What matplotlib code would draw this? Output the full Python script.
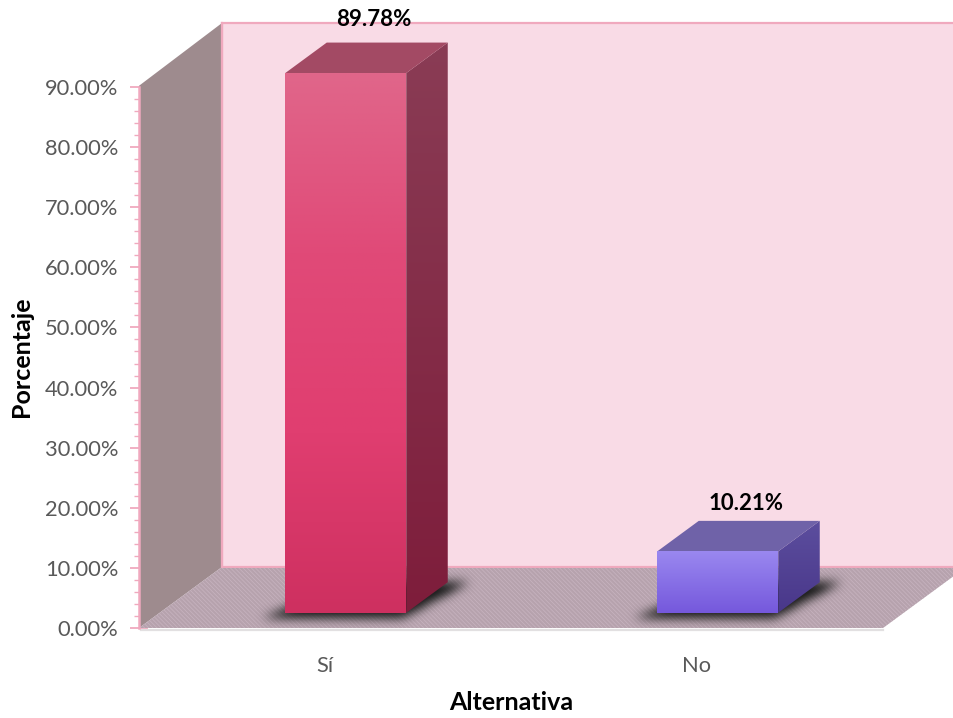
import numpy as np
import matplotlib
matplotlib.use('Agg')
import matplotlib.pyplot as plt
from matplotlib.patches import Polygon
from matplotlib.path import Path
from matplotlib.colors import LinearSegmentedColormap

categories = ['Sí', 'No']
values = [89.78, 10.21]
value_labels = ['89.78%', '10.21%']
y_ticks = [0, 10, 20, 30, 40, 50, 60, 70, 80, 90]
y_tick_labels = ['0.00%', '10.00%', '20.00%', '30.00%', '40.00%', '50.00%', '60.00%', '70.00%', '80.00%', '90.00%']
y_minor_ticks = [v for v in range(0, 91, 2) if v % 10 != 0]

W, H = 954, 718
plt.rcParams['font.family'] = ['Lato', 'DejaVu Sans']
plt.rcParams['hatch.linewidth'] = 0.6

fig = plt.figure(figsize=(W / 100, H / 100), dpi=100)
ax = fig.add_axes([139 / W, 1 - 628 / H, 744 / W, 541 / H])
ax.patch.set_alpha(0)
ax.set_xlim(-0.5, 1.5)
ax.set_ylim(0, 90)

# depth of the fake 3d box, in data units
dx = 83 / 372
dy = 61 / 6.011
bar_w = 121 / 372
pink = '#F0A9BE'


def face(points, cols, z):
    # gradient face: an image clipped by the polygon
    poly = Polygon(points, closed=True, fc='none', ec='none', transform=ax.transData)
    ax.add_patch(poly)
    xs = [p[0] for p in points]
    ys = [p[1] for p in points]
    cmap = LinearSegmentedColormap.from_list('f', cols)
    im = ax.imshow(np.linspace(0, 1, 256).reshape(-1, 1), cmap=cmap, aspect='auto', zorder=z,
                   extent=(min(xs), max(xs), min(ys), max(ys)), origin='upper')
    im.set_clip_path(poly)
    im.set_clip_box(fig.bbox)


def shadow(x0, x1, y0, z):
    # soft dark patch under a bar, blurred by hand
    px = 2
    gx = np.arange(0, W, px)
    gy = np.arange(0, H, px)
    xx, yy = np.meshgrid(gx, gy)
    pts = ax.transData.inverted().transform(np.c_[xx.ravel(), (H - yy).ravel()])
    ext = 0.06
    base = [(x0 - ext, y0 - 0.6), (x1 - 0.01, y0 - 0.6), (x1 + dx / 2 + ext, y0 + dy / 2 + 0.3), (x0 + dx / 2 + ext, y0 + dy / 2 + 0.3)]
    mask = Path(base).contains_points(pts).reshape(xx.shape).astype(float)
    kernel = np.ones(5) / 5
    for _ in range(3):
        mask = np.apply_along_axis(lambda r: np.convolve(r, kernel, mode='same'), 0, mask)
        mask = np.apply_along_axis(lambda r: np.convolve(r, kernel, mode='same'), 1, mask)
    rgba = np.zeros(mask.shape + (4,))
    rgba[..., 0:3] = 0.13
    rgba[..., 3] = np.clip(mask * 1.1, 0, 1)
    bb = ax.transData.inverted().transform([(0, 0), (W, H)])
    im = ax.imshow(rgba, extent=(bb[0][0], bb[1][0], bb[0][1], bb[1][1]), aspect='auto', zorder=z, interpolation='bilinear')
    im.set_clip_box(fig.bbox)


# walls and floor
x_l, x_r = -0.5, 1.5
wall_top = 90.5
ax.add_patch(Polygon([(x_l + dx, dy), (x_r + dx, dy), (x_r + dx, wall_top + dy), (x_l + dx, wall_top + dy)],
                     fc='#F9DBE6', ec=pink, lw=1.6, zorder=1, clip_on=False))
ax.add_patch(Polygon([(x_l, 0), (x_l + dx, dy), (x_l + dx, wall_top + dy), (x_l, 90.2)],
                     fc='#9E8B8E', ec='none', zorder=2, clip_on=False))
ax.plot([x_l + dx, x_l + dx], [dy, wall_top + dy], color=pink, lw=1.6, zorder=2.5, clip_on=False)
ax.add_patch(Polygon([(x_l, 0), (x_r, 0), (x_r + dx, dy), (x_l + dx, dy)],
                     fc='#B6A2AD', ec='#C6B2BE', hatch='\\\\\\\\\\\\\\\\', lw=0, zorder=2, clip_on=False))
ax.plot([x_l + dx, x_r + dx], [dy, dy], color=pink, lw=1.4, zorder=2.5, clip_on=False)
ax.plot([x_l + 0.005, x_r], [-0.3, -0.3], color='#E2E0E1', lw=1.6, zorder=2, clip_on=False)

# bars: they stand in the middle of the floor depth
styles = [
    {'front': ['#E0668A', '#E04A78', '#E03E70', '#CE3060'], 'side': ['#8A3C55', '#7E1D3B'], 'top': '#A34A64', 'pad': 9},
    {'front': ['#9A88F0', '#7558DC'], 'side': ['#5C4E9E', '#49378A'], 'top': '#6F62A8', 'pad': 5},
]
bar_dx = dx / 4
bar_dy = dy / 4
for i, v in enumerate(values):
    st = styles[i]
    x0 = i - bar_w / 2 + bar_dx
    x1 = x0 + bar_w
    y0 = bar_dy
    y1 = v + bar_dy
    shadow(x0, x1, y0, 3)
    face([(x0, y0), (x1, y0), (x1, y1), (x0, y1)], st['front'], 5)
    face([(x1, y0), (x1 + dx / 2, y0 + dy / 2), (x1 + dx / 2, y1 + dy / 2), (x1, y1)], st['side'], 4)
    ax.add_patch(Polygon([(x0, y1), (x1, y1), (x1 + dx / 2, y1 + dy / 2), (x0 + dx / 2, y1 + dy / 2)],
                         fc=st['top'], ec='none', zorder=4, clip_on=False))
    ax.annotate(value_labels[i], xy=(x0 + bar_w / 2 + 28 / 372, y1 + dy / 2), xytext=(0, st['pad']), textcoords='offset points',
                ha='center', va='bottom', fontsize=16, fontweight='bold', color='black', zorder=8,
                annotation_clip=False)

ax.set_xlim(-0.5, 1.5)
ax.set_ylim(0, 90)

for s in ['top', 'right', 'bottom']:
    ax.spines[s].set_visible(False)
ax.spines['left'].set_color(pink)
ax.spines['left'].set_linewidth(1.8)
ax.spines['left'].set_zorder(6)

ax.set_xticks(range(len(categories)))
ax.set_xticklabels(categories)
ax.set_yticks(y_ticks)
ax.set_yticklabels(y_tick_labels)
ax.set_yticks(y_minor_ticks, minor=True)
ax.tick_params(axis='x', length=0, pad=20, labelsize=15.75, labelcolor='#595959')
ax.tick_params(axis='y', which='major', direction='inout', length=13, width=1.3, color=pink, pad=8.5, labelsize=15.75, labelcolor='#595959')
ax.tick_params(axis='y', which='minor', direction='out', length=3.5, width=1, color=pink)
for t in ax.yaxis.get_major_ticks():
    t.tick1line.set_zorder(7)

fig.text(22 / W, 1 - 357 / H, 'Porcentaje', rotation=90, ha='center', va='center', fontsize=18, fontweight='bold', color='black')
fig.text(511 / W, 1 - 703 / H, 'Alternativa', ha='center', va='center', fontsize=18, fontweight='bold', color='black')

plt.savefig('out.png', dpi=100)
